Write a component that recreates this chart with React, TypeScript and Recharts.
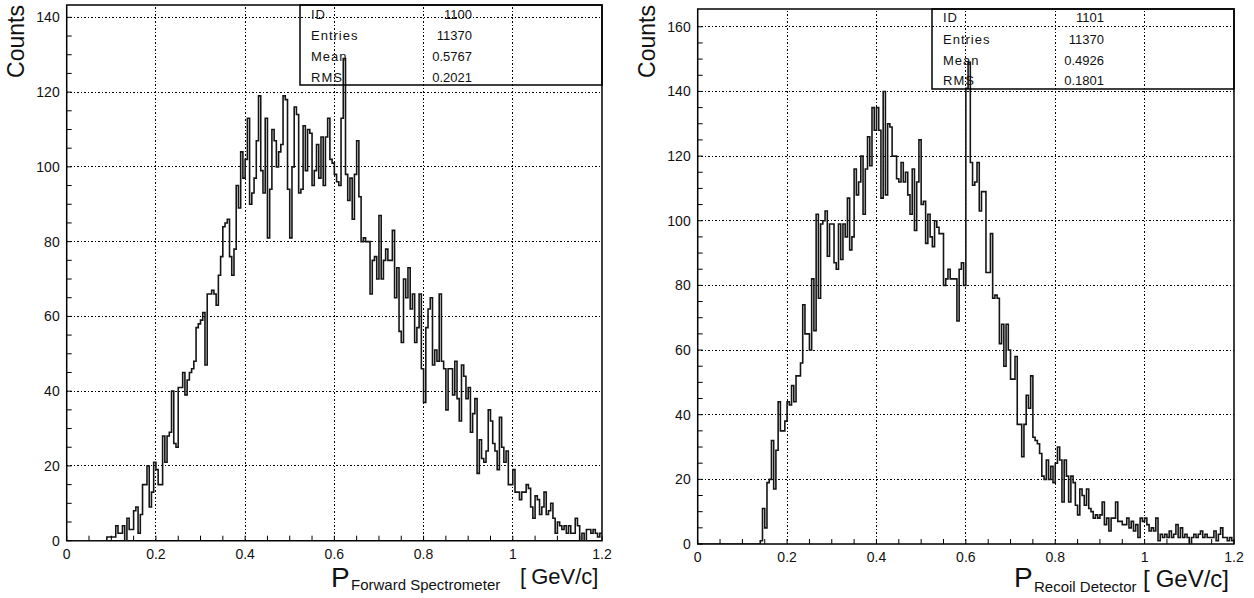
import React from 'react';
import { ComposedChart, Line, XAxis, YAxis, ReferenceLine, ReferenceArea } from 'recharts';

// ---------- data ----------
const BIN_WIDTH = 0.005; // GeV/c per bin, 240 bins from 0 to 1.2

// Histogram ID 1100 : P Forward Spectrometer
const forwardCounts = [
  0, 0, 0, 0, 0, 0, 0, 0, 0, 0, 0, 0, 0, 0, 0, 0, 0, 0, 1, 1,
  1, 1, 4, 2, 2, 4, 0, 6, 3, 3, 8, 9, 2, 7, 15, 15, 20, 9, 13, 21,
  19, 15, 15, 28, 21, 28, 29, 40, 26, 25, 41, 41, 45, 39, 43, 45, 46, 48, 57, 58,
  59, 61, 47, 66, 66, 67, 66, 63, 71, 76, 84, 85, 86, 76, 71, 78, 95, 89, 104, 97,
  102, 113, 90, 93, 97, 107, 119, 99, 93, 113, 81, 94, 110, 107, 100, 104, 106, 119, 118, 94,
  81, 100, 116, 114, 93, 94, 111, 99, 110, 109, 95, 99, 106, 97, 108, 95, 108, 113, 102, 101,
  98, 96, 95, 113, 129, 98, 91, 97, 86, 98, 107, 92, 80, 81, 80, 80, 66, 75, 76, 70,
  87, 70, 75, 78, 75, 75, 83, 65, 73, 56, 53, 70, 65, 73, 62, 66, 53, 57, 66, 46,
  37, 57, 62, 65, 47, 51, 48, 66, 48, 46, 35, 46, 46, 39, 48, 38, 32, 47, 44, 38,
  41, 29, 34, 38, 18, 27, 22, 21, 24, 35, 32, 26, 24, 19, 33, 25, 21, 24, 15, 15,
  19, 13, 13, 11, 13, 13, 15, 14, 9, 6, 12, 11, 7, 9, 13, 7, 8, 10, 6, 2,
  5, 4, 3, 4, 2, 4, 2, 2, 6, 4, 0, 2, 0, 3, 3, 2, 3, 2, 1, 2,
];

// Histogram ID 1101 : P Recoil Detector
const recoilCounts = [
  0, 0, 0, 0, 0, 0, 0, 0, 0, 0, 0, 0, 0, 0, 0, 0, 0, 0, 0, 0,
  0, 0, 0, 0, 0, 0, 0, 0, 1, 11, 5, 19, 20, 32, 17, 29, 44, 35, 35, 38,
  44, 43, 49, 44, 52, 52, 56, 74, 65, 65, 60, 82, 66, 102, 76, 99, 100, 103, 89, 99,
  99, 87, 85, 99, 88, 99, 95, 107, 91, 95, 116, 108, 112, 120, 102, 116, 126, 117, 135, 128,
  135, 128, 107, 140, 108, 130, 129, 120, 120, 113, 112, 118, 112, 115, 108, 102, 116, 97, 112, 125,
  105, 106, 93, 102, 95, 92, 100, 98, 96, 96, 80, 82, 85, 82, 82, 82, 69, 85, 87, 80,
  141, 149, 118, 111, 112, 118, 103, 109, 109, 84, 84, 96, 76, 77, 76, 62, 68, 55, 68, 60,
  51, 51, 58, 37, 37, 27, 37, 46, 42, 52, 33, 32, 31, 28, 21, 20, 26, 20, 24, 19,
  25, 30, 26, 13, 26, 21, 13, 21, 19, 12, 9, 17, 15, 12, 17, 11, 10, 8, 9, 8,
  9, 13, 6, 8, 4, 8, 8, 13, 7, 7, 6, 6, 8, 5, 7, 4, 6, 2, 8, 7,
  8, 6, 4, 5, 4, 8, 1, 3, 2, 3, 2, 4, 2, 3, 6, 2, 5, 2, 3, 2,
  0, 2, 3, 2, 3, 4, 2, 3, 2, 2, 2, 4, 1, 3, 5, 2, 2, 1, 2, 1,
];

const xMajorTicks = [0, 0.2, 0.4, 0.6, 0.8, 1, 1.2];
const xTickLabels = ['0', '0.2', '0.4', '0.6', '0.8', '1', '1.2'];
const xMinorTicks = [
  0, 0.05, 0.1, 0.15, 0.2, 0.25, 0.3, 0.35, 0.4, 0.45, 0.5, 0.55, 0.6,
  0.65, 0.7, 0.75, 0.8, 0.85, 0.9, 0.95, 1, 1.05, 1.1, 1.15, 1.2,
];

const leftYMajor = [0, 20, 40, 60, 80, 100, 120, 140];
const leftYMinor = [
  0, 5, 10, 15, 20, 25, 30, 35, 40, 45, 50, 55, 60, 65, 70, 75, 80, 85, 90, 95,
  100, 105, 110, 115, 120, 125, 130, 135, 140,
];
const rightYMajor = [0, 20, 40, 60, 80, 100, 120, 140, 160];
const rightYMinor = [
  0, 5, 10, 15, 20, 25, 30, 35, 40, 45, 50, 55, 60, 65, 70, 75, 80, 85, 90, 95,
  100, 105, 110, 115, 120, 125, 130, 135, 140, 145, 150, 155, 160,
];

const statLabels = ['ID', 'Entries', 'Mean', 'RMS'];
const forwardStats = ['1100', '11370', '0.5767', '0.2021'];
const recoilStats = ['1101', '11370', '0.4926', '0.1801'];

// ---------- helpers ----------
const FONT = '"Liberation Sans", Arial, Helvetica, sans-serif';

function toSteps(counts: number[]) {
  const pts = counts.map((c, i) => ({ x: +(i * BIN_WIDTH).toFixed(4), y: c }));
  pts.push({ x: +(counts.length * BIN_WIDTH).toFixed(4), y: counts[counts.length - 1] });
  return pts;
}

const forwardData = toSteps(forwardCounts);
const recoilData = toSteps(recoilCounts);

function XTick(props: any) {
  const { x, y, payload } = props;
  const v = payload.value as number;
  const idx = xMajorTicks.findIndex((m) => Math.abs(m - v) < 1e-6);
  return (
    <g>
      <line x1={x} x2={x} y1={y} y2={y - 5} stroke="#000" strokeWidth={1} />
      {idx >= 0 && (
        <text x={x} y={y + 18} textAnchor="middle" fontSize={14} fontFamily={FONT} fill="#111">
          {xTickLabels[idx]}
        </text>
      )}
    </g>
  );
}

function makeYTick(majors: number[]) {
  return function YTick(props: any) {
    const { x, y, payload } = props;
    const v = payload.value as number;
    const isMajor = majors.includes(v);
    return (
      <g>
        <line x1={x} x2={x + 5} y1={y} y2={y} stroke="#000" strokeWidth={1} />
        {isMajor && (
          <text x={x - 7} y={y + 5} textAnchor="end" fontSize={14} fontFamily={FONT} fill="#111">
            {String(v)}
          </text>
        )}
      </g>
    );
  };
}

type HistProps = {
  data: { x: number; y: number }[];
  yMax: number;
  yMajor: number[];
  yMinor: number[];
  width: number;
  margin: { top: number; right: number; bottom: number; left: number };
};

function Histogram({ data, yMax, yMajor, yMinor, width, margin }: HistProps) {
  const YTick = makeYTick(yMajor);
  return (
    <ComposedChart width={width} height={598} data={data} margin={margin}>
      {xMajorTicks.slice(1, -1).map((v) => (
        <ReferenceLine
          key={'gx' + v}
          x={v}
          stroke="#000"
          strokeWidth={1}
          strokeDasharray="1.5 2"
          shapeRendering="crispEdges"
        />
      ))}
      {yMajor.slice(1).map((v) => (
        <ReferenceLine
          key={'gy' + v}
          y={v}
          stroke="#000"
          strokeWidth={1}
          strokeDasharray="1.5 2"
          shapeRendering="crispEdges"
        />
      ))}
      <ReferenceArea x1={0} x2={1.2} y1={0} y2={yMax} fill="none" fillOpacity={0} stroke="#000" strokeWidth={1.5} />
      <XAxis
        type="number"
        dataKey="x"
        domain={[0, 1.2]}
        ticks={xMinorTicks}
        interval={0}
        allowDataOverflow
        axisLine={false}
        tickLine={false}
        tickSize={0}
        tickMargin={0}
        height={30}
        tick={(p: any) => <XTick {...p} />}
      />
      <YAxis
        type="number"
        domain={[0, yMax]}
        ticks={yMinor}
        interval={0}
        allowDataOverflow
        axisLine={false}
        tickLine={false}
        tickSize={0}
        tickMargin={0}
        width={40}
        tick={(p: any) => <YTick {...p} />}
      />
      <Line
        type="stepAfter"
        dataKey="y"
        stroke="#151515"
        strokeWidth={1.6}
        dot={false}
        activeDot={false}
        isAnimationActive={false}
      />
    </ComposedChart>
  );
}

function StatsBox({ left, top, values, rows }: { left: number; top: number; values: string[]; rows: number[] }) {
  return (
    <g fontFamily={FONT} fontSize={13} fill="#111">
      <rect x={left} y={top} width={302} height={80} fill="none" stroke="#000" strokeWidth={1.5} />
      {statLabels.map((l, i) => (
        <text key={l} x={left + 11} y={top + rows[i]} letterSpacing={1}>
          {l}
        </text>
      ))}
      {values.map((v, i) => (
        <text key={'v' + i} x={left + 172} y={top + rows[i]} textAnchor="end">
          {v}
        </text>
      ))}
    </g>
  );
}

export default function App() {
  return (
    <div style={{ position: 'absolute', left: 0, top: 0, width: 1254, height: 598, background: '#fff', overflow: 'hidden' }}>
      <div style={{ position: 'absolute', left: 0, top: 0 }}>
        <Histogram
          data={forwardData}
          yMax={143.3}
          yMajor={leftYMajor}
          yMinor={leftYMinor}
          width={620}
          margin={{ top: 5, right: 18, bottom: 27.3, left: 26.7 }}
        />
      </div>
      <div style={{ position: 'absolute', left: 630, top: 0 }}>
        <Histogram
          data={recoilData}
          yMax={165.5}
          yMajor={rightYMajor}
          yMinor={rightYMinor}
          width={624}
          margin={{ top: 9, right: 20, bottom: 24, left: 27.7 }}
        />
      </div>
      <svg
        width={1254}
        height={598}
        style={{ position: 'absolute', left: 0, top: 0, pointerEvents: 'none' }}
      >
        {/* y axis titles */}
        <text x={24} y={5} transform="rotate(-90 24 5)" textAnchor="end" fontSize={23} fontFamily={FONT} fill="#111">
          Counts
        </text>
        <text x={655} y={5} transform="rotate(-90 655 5)" textAnchor="end" fontSize={23} fontFamily={FONT} fill="#111">
          Counts
        </text>
        {/* x axis titles */}
        <g fontFamily={FONT} fill="#111">
          <text x={331} y={587} fontSize={28}>P</text>
          <text x={351} y={590} fontSize={15}>Forward Spectrometer</text>
          <text x={520} y={584} fontSize={22}>[<tspan dx={5}>GeV/c]</tspan></text>
          <text x={1014} y={587} fontSize={28}>P</text>
          <text x={1034} y={592} fontSize={15}>Recoil Detector</text>
          <text x={1143} y={587} fontSize={24}>[<tspan dx={6}>GeV/c]</tspan></text>
        </g>
        <StatsBox left={300} top={5} values={forwardStats} rows={[14, 35, 56, 76.5]} />
        <StatsBox left={932} top={9} values={recoilStats} rows={[13, 35, 56, 76]} />
      </svg>
    </div>
  );
}
